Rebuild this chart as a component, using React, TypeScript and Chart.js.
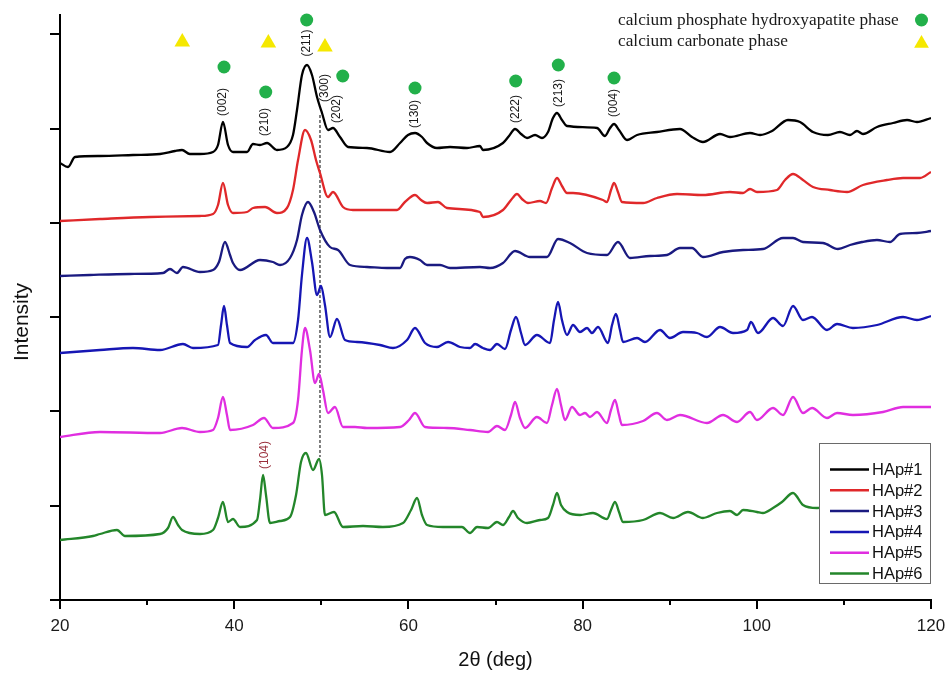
import React, { useEffect, useRef } from 'react';
import { Chart, registerables } from 'chart.js';

Chart.register(...registerables);

// ---- Data (2θ in degrees, intensity in arbitrary units, traces vertically offset) ----
const hap1Angle = [20.0,20.92,21.72,24.59,28.38,31.48,33.2,34.01,34.9,36.07,37.57,38.14,38.71,39.29,39.86,41.47,42.16,42.96,43.77,44.91,46.06,46.75,47.21,47.78,48.36,48.93,49.51,50.08,50.77,51.34,52.15,53.07,55.25,57.89,59.04,59.95,60.76,61.56,62.14,63.28,64.78,66.73,68.22,68.56,70.86,71.55,72.24,72.93,73.62,74.54,75.34,76.03,76.6,77.06,77.63,78.21,81.65,82.57,83.15,83.61,84.18,85.10,86.25,88.54,91.18,92.56,93.82,95.78,96.92,99.22,100.37,101.75,103.58,104.96,106.45,108.17,109.55,110.70,111.50,112.19,113.80,115.64,117.25,118.39,120.0];
const hap1Int = [437,433,443,444,445,446,449,450,446,446,448,455,478,455,448,448,456,455,457,450,453,465,490,525,535,525,503,487,470,472,463,453,452,448,457,465,467,463,457,452,453,452,454,450,457,464,471,466,462,465,462,468,482,487,480,474,472,464,472,476,470,460,465,468,471,463,458,466,463,467,465,469,480,478,468,465,468,465,469,466,473,477,480,478,482];

const hap2Angle = [20.0,24.59,30.33,36.07,37.57,38.14,38.71,39.29,39.86,41.47,42.16,43.54,44.91,46.06,46.75,47.33,48.13,48.82,49.39,49.85,50.77,51.34,52.49,53.64,58.69,59.6,60.76,61.45,62.14,63.40,64.43,68.22,68.56,70.86,71.78,72.47,73.04,73.73,75.11,75.80,76.49,77.06,77.63,78.21,78.90,82.34,82.80,83.26,83.61,84.06,84.52,86.94,88.54,90.84,93.82,96.92,98.42,99.22,100.02,102.32,103.24,104.16,105.30,106.45,108.40,110.36,112.19,114.95,116.79,118.74,120.0];
const hap2Int = [379,381,383,384,386,395,417,395,387,388,392,393,387,392,410,440,470,460,440,427,403,408,393,390,390,398,405,400,397,398,392,388,383,390,400,406,401,397,399,397,412,422,414,407,407,400,398,410,417,408,398,397,402,406,405,408,407,411,408,410,420,426,420,413,410,408,415,420,422,422,428];

const hap3Angle = [20.0,23.44,28.0,31.83,32.63,33.43,34.12,36.07,37.57,38.25,38.94,39.52,39.86,40.67,42.96,44.45,45.26,46.41,47.21,47.78,48.47,49.16,49.85,51.0,51.92,53.30,55.25,57.54,59.04,59.6,60.18,61.33,62.14,63.63,64.78,68.22,69.37,70.86,72.24,73.96,75.91,77.18,78.55,80.51,82.80,84.06,85.44,87.74,89.69,91.18,92.56,93.82,96.12,98.42,100.71,103.01,104.16,105.30,107.60,109.32,110.70,112.08,113.80,115.29,116.44,118.39,120.0];
const hap3Int = [324,325,326,327,331,327,333,328,330,338,358,345,337,330,340,338,335,342,360,385,398,388,370,353,350,335,333,332,332,341,343,340,335,335,332,333,332,337,349,343,343,361,357,347,345,358,342,344,345,352,352,343,348,350,351,362,362,358,357,351,355,358,360,358,366,367,369];

const hap4Angle = [20.0,24.59,28.38,31.48,34.12,35.27,38.14,38.49,38.83,39.17,39.52,41.47,42.39,43.65,44.45,46.75,47.33,47.78,48.36,48.93,49.51,49.97,50.42,51.0,51.80,52.72,54.10,56.74,58.23,59.84,60.76,61.91,63.28,64.55,65.92,67.07,67.65,68.56,69.37,70.17,71.09,71.78,72.35,72.93,73.39,74.76,76.26,76.72,77.18,77.63,78.21,78.90,79.70,80.51,81.08,81.77,82.92,83.38,83.83,84.29,84.64,86.25,87.16,88.89,90.03,91.53,93.13,94.28,95.78,97.27,98.88,99.33,100.14,101.86,103.01,104.16,105.30,106.34,108.06,109.21,111.04,113.80,116.79,118.39,120.0];
const hap4Int = [247,250,252,250,256,252,255,275,294,275,257,253,260,265,257,257,280,325,362,338,305,314,295,263,281,260,258,255,252,260,272,257,253,258,253,252,256,252,250,256,251,270,283,267,255,265,257,280,298,280,265,275,268,272,267,273,257,275,286,270,258,262,258,270,262,268,267,263,273,267,270,278,267,282,274,294,280,283,270,276,272,275,283,280,284];

const hap5Angle = [20.0,24.59,31.48,34.01,36.07,37.57,38.14,38.71,39.17,39.52,42.16,43.42,44.45,46.75,47.33,47.78,48.13,48.70,49.28,49.74,50.19,50.77,51.57,52.49,53.87,55.25,59.04,60.07,60.76,61.91,64.43,67.07,69.14,70.17,71.09,71.78,72.24,72.81,73.39,74.76,75.91,76.49,77.06,77.52,77.98,78.78,79.70,80.28,80.85,81.65,82.80,83.26,83.72,84.18,84.52,86.94,88.54,89.69,91.18,94.28,96.12,97.73,99.22,100.02,101.86,103.01,104.16,105.30,106.34,108.06,109.21,111.04,114.49,116.79,120.0];
const hap5Int = [163,168,167,172,168,170,182,203,185,170,175,182,172,177,200,250,272,250,217,226,210,187,193,173,173,172,173,180,187,173,172,170,168,174,170,185,198,182,172,183,177,195,211,195,180,193,185,187,183,188,177,190,200,185,175,179,187,180,185,177,185,178,188,180,192,185,203,187,192,182,187,185,188,193,193];

const hap6Angle = [20.0,23.79,24.59,26.54,27.46,31.48,32.4,32.97,33.55,34.01,36.07,37.57,38.14,38.71,39.29,39.86,40.67,42.62,42.96,43.31,43.65,44.11,45.26,46.41,47.1,47.67,48.24,49.05,49.74,50.08,50.42,51.46,52.49,54.79,57.08,59.38,60.3,60.99,61.56,62.14,63.97,66.15,67.07,67.88,69.14,70.17,70.86,71.55,72.01,72.58,73.62,75.11,76.03,76.6,77.06,77.52,78.21,79.70,81.19,82.80,83.26,83.72,84.18,84.64,86.94,88.89,90.38,92.10,93.82,95.43,96.92,97.73,98.42,100.02,100.71,101.86,102.89,104.16,105.30,106.91,109.55,113.0,116.44,120.0];
const hap6Int = [60,64,66,70,64,66,72,83,75,70,66,70,82,98,78,81,73,80,100,125,105,77,79,83,105,138,147,130,141,125,85,88,73,74,73,77,90,102,85,75,73,73,67,73,72,78,75,83,89,82,77,80,82,95,107,95,88,85,87,81,90,98,88,78,80,87,82,88,82,87,89,85,90,88,87,92,98,107,95,92,95,100,104,108];

const seriesNames = ['HAp#1', 'HAp#2', 'HAp#3', 'HAp#4', 'HAp#5', 'HAp#6'];
const seriesAngles = [hap1Angle, hap2Angle, hap3Angle, hap4Angle, hap5Angle, hap6Angle];
const seriesInts = [hap1Int, hap2Int, hap3Int, hap4Int, hap5Int, hap6Int];
const seriesColors = ['#000000', '#e0282a', '#1a1a80', '#1616b4', '#e02ee0', '#23862a'];

// phase markers
const hapMarkAngles = [38.83, 43.62, 48.32, 52.46, 60.76, 72.32, 77.21, 83.61];
const hapMarkInts = [533, 508, 580, 524, 512, 519, 535, 522];
const carbMarkAngles = [34.04, 43.92, 50.42];
const carbMarkInts = [558, 557, 553];

// Miller index labels
const hklLabels = ['(002)', '(210)', '(211)', '(300)', '(202)', '(130)', '(222)', '(213)', '(004)'];
const hklAngles = [38.7, 43.54, 48.32, 50.42, 51.77, 60.76, 72.32, 77.21, 83.61];
const hklInts = [498, 478, 557, 512, 491, 486, 491, 507, 497];
const carbLabel = '(104)';
const carbLabelAngle = 43.54;
const carbLabelInt = 145;

// dashed reference line
const refAngle = 49.85;
const refFrom = 143;
const refTo = 485;

const xTickValues = [20, 30, 40, 50, 60, 70, 80, 90, 100, 110, 120];
const yTickValues = [0, 94.3, 188.6, 282.9, 377.2, 471.5, 565.8];

const phaseTexts = ['calcium phosphate hydroxyapatite phase', 'calcium carbonate phase'];

const SANS = "'Liberation Sans', Arial, sans-serif";
const SERIF = "'Liberation Serif', 'Times New Roman', serif";
const GREEN_MARK = '#22b04a';
const YELLOW_MARK = '#f5e800';

function drawTriangle(ctx: CanvasRenderingContext2D, cx: number, cy: number, r: number) {
  ctx.beginPath();
  for (let i = 0; i < 3; i++) {
    const a = i * (2 * Math.PI / 3);
    const px = cx + Math.sin(a) * r;
    const py = cy - Math.cos(a) * r;
    if (i === 0) ctx.moveTo(px, py); else ctx.lineTo(px, py);
  }
  ctx.closePath();
  ctx.fill();
}

const overlayPlugin = {
  id: 'xrdOverlay',
  beforeDatasetsDraw(chart: any) {
    const { ctx, scales } = chart;
    const x = scales.x, y = scales.y;
    ctx.save();
    ctx.strokeStyle = '#000';
    ctx.lineWidth = 1;
    ctx.setLineDash([3, 2]);
    const px = x.getPixelForValue(refAngle);
    ctx.beginPath();
    ctx.moveTo(px, y.getPixelForValue(refTo));
    ctx.lineTo(px, y.getPixelForValue(refFrom));
    ctx.stroke();
    ctx.restore();
  },
  afterDatasetsDraw(chart: any) {
    const { ctx, scales } = chart;
    const x = scales.x, y = scales.y;
    ctx.save();
    // Miller index labels
    ctx.font = `12px ${SANS}`;
    ctx.textAlign = 'center';
    ctx.textBaseline = 'middle';
    const drawRot = (text: string, a: number, v: number, color: string) => {
      ctx.save();
      ctx.translate(x.getPixelForValue(a), y.getPixelForValue(v));
      ctx.rotate(-Math.PI / 2);
      ctx.fillStyle = color;
      ctx.fillText(text, 0, 0);
      ctx.restore();
    };
    hklLabels.forEach((t, i) => drawRot(t, hklAngles[i], hklInts[i], '#1a1a1a'));
    drawRot(carbLabel, carbLabelAngle, carbLabelInt, '#9a2f3c');

    // series legend box
    const bx = 819.5, by = 443.5, bw = 111, bh = 140;
    ctx.fillStyle = '#ffffff';
    ctx.fillRect(bx, by, bw, bh);
    ctx.strokeStyle = '#6a6a6a';
    ctx.lineWidth = 1;
    ctx.strokeRect(bx, by, bw, bh);
    ctx.font = `16.5px ${SANS}`;
    ctx.textAlign = 'left';
    ctx.textBaseline = 'middle';
    seriesNames.forEach((name, i) => {
      const ly = 469.5 + i * 20.8;
      ctx.strokeStyle = seriesColors[i];
      ctx.lineWidth = 2.5;
      ctx.beginPath();
      ctx.moveTo(830, ly);
      ctx.lineTo(869, ly);
      ctx.stroke();
      ctx.fillStyle = '#111';
      ctx.fillText(name, 872, ly + 1);
    });

    // phase legend
    ctx.font = `17.3px ${SERIF}`;
    ctx.fillStyle = '#1a1a1a';
    ctx.fillText(phaseTexts[0], 618, 20);
    ctx.fillText(phaseTexts[1], 618, 41);
    ctx.fillStyle = GREEN_MARK;
    ctx.beginPath();
    ctx.arc(921.5, 20, 6.5, 0, Math.PI * 2);
    ctx.fill();
    ctx.fillStyle = YELLOW_MARK;
    drawTriangle(ctx, 921.5, 43.5, 8.5);

    // y-axis title
    ctx.save();
    ctx.translate(22, 322);
    ctx.rotate(-Math.PI / 2);
    ctx.font = `21px ${SANS}`;
    ctx.fillStyle = '#111';
    ctx.textAlign = 'center';
    ctx.textBaseline = 'middle';
    ctx.fillText('Intensity', 0, 0);
    ctx.restore();
    ctx.restore();
  },
  afterDraw(chart: any) {
    const { ctx, scales, chartArea } = chart;
    const x = scales.x, y = scales.y;
    ctx.save();
    ctx.strokeStyle = '#000';
    ctx.lineWidth = 2;
    x.ticks.forEach((t: any) => {
      const px = Math.round(x.getPixelForValue(t.value));
      const len = t.value % 20 === 0 ? 9 : 5;
      ctx.beginPath();
      ctx.moveTo(px, chartArea.bottom);
      ctx.lineTo(px, chartArea.bottom + len);
      ctx.stroke();
    });
    y.ticks.forEach((t: any) => {
      const py = Math.round(y.getPixelForValue(t.value));
      ctx.beginPath();
      ctx.moveTo(chartArea.left - 10, py);
      ctx.lineTo(chartArea.left, py);
      ctx.stroke();
    });
    ctx.restore();
  },
};

export default function App() {
  const canvasRef = useRef<HTMLCanvasElement | null>(null);

  useEffect(() => {
    const canvas = canvasRef.current;
    if (!canvas) return;

    const lineSets = seriesNames.map((name, i) => ({
      label: name,
      data: seriesAngles[i].map((a, j) => ({ x: a, y: seriesInts[i][j] })),
      borderColor: seriesColors[i],
      backgroundColor: seriesColors[i],
      borderWidth: 2.3,
      pointRadius: 0,
      cubicInterpolationMode: 'monotone' as const,
      fill: false,
      order: 6 - i,
    }));

    const markerSets = [
      {
        label: 'calcium phosphate hydroxyapatite phase',
        data: hapMarkAngles.map((a, j) => ({ x: a, y: hapMarkInts[j] })),
        showLine: false,
        pointStyle: 'circle' as const,
        pointRadius: 6.5,
        backgroundColor: GREEN_MARK,
        borderColor: GREEN_MARK,
        borderWidth: 0,
        clip: false as any,
        order: -1,
      },
      {
        label: 'calcium carbonate phase',
        data: carbMarkAngles.map((a, j) => ({ x: a, y: carbMarkInts[j] })),
        showLine: false,
        pointStyle: 'triangle' as const,
        pointRadius: 9,
        backgroundColor: YELLOW_MARK,
        borderColor: YELLOW_MARK,
        borderWidth: 0,
        clip: false as any,
        order: -1,
      },
    ];

    const chart = new Chart(canvas, {
      type: 'line',
      data: { datasets: [...lineSets, ...markerSets] as any },
      options: {
        responsive: false,
        devicePixelRatio: 1,
        animation: false,
        events: [],
        layout: { padding: { left: 0, right: 18, top: 15, bottom: 0 } },
        plugins: {
          legend: { display: false },
          tooltip: { enabled: false },
        },
        scales: {
          x: {
            type: 'linear',
            min: 20,
            max: 120,
            afterBuildTicks: (s: any) => {
              s.ticks = xTickValues.map((v) => ({ value: v }));
            },
            afterFit: (s: any) => {
              s.height = 75;
              s.paddingLeft = 0;
              s.paddingRight = 0;
            },
            ticks: {
              autoSkip: false,
              maxRotation: 0,
              padding: 8,
              color: '#1a1a1a',
              font: { size: 17, family: SANS },
              callback: (v: any) => (Number(v) % 20 === 0 ? String(v) : ''),
            },
            grid: { display: false },
            border: { display: true, color: '#000', width: 2 },
            title: {
              display: true,
              text: '2θ (deg)',
              color: '#111',
              font: { size: 20, family: SANS },
              padding: { top: 0, bottom: 3 },
            },
          },
          y: {
            type: 'linear',
            min: 0,
            max: 585,
            afterBuildTicks: (s: any) => {
              s.ticks = yTickValues.map((v) => ({ value: v }));
            },
            afterFit: (s: any) => {
              s.width = 60;
              s.paddingTop = 0;
              s.paddingBottom = 0;
            },
            ticks: { display: false },
            grid: { display: false },
            border: { display: true, color: '#000', width: 2 },
          },
        },
      },
      plugins: [overlayPlugin],
    });

    return () => {
      chart.destroy();
    };
  }, []);

  return (
    <div
      style={{
        position: 'absolute',
        left: 0,
        top: 0,
        width: 949,
        height: 675,
        background: '#ffffff',
      }}
    >
      <canvas ref={canvasRef} width={949} height={675} style={{ display: 'block' }} />
    </div>
  );
}
